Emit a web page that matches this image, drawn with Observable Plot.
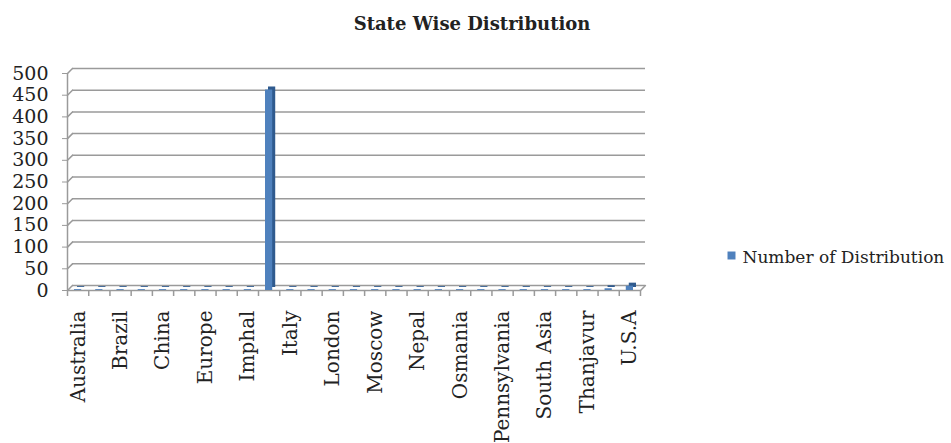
<!DOCTYPE html>
<html>
<head>
<meta charset="utf-8">
<script src="https://cdn.jsdelivr.net/npm/d3@7"></script>
<script src="https://cdn.jsdelivr.net/npm/@observablehq/plot@0.6"></script>
<style>
  html, body { margin: 0; padding: 0; background: #fff; }
  #chart svg { display: block; }
</style>
</head>
<body>
<div id="chart"></div>
<script>
// Every second place name is printed under the axis
const axisLabels = ["Australia", "Brazil", "China", "Europe", "Imphal", "Italy", "London",
  "Moscow", "Nepal", "Osmania", "Pennsylvania", "South Asia", "Thanjavur", "U.S.A"];

// Number of distribution for each of the 27 places, in axis order
const counts = [2, 2, 2, 2, 2, 2, 2, 2, 2, 462, 2, 2, 2, 2, 2, 2, 2, 2, 2, 2, 2, 2, 2, 2, 2, 4, 10];

const yTicks = d3.range(0, 501, 50);
const seriesName = "Number of Distribution";
const title = "State Wise Distribution";

const serif = "'DejaVu Serif', serif";
const gridColor = "#9a9a9a";
const blue = "#4f81bd";
const blueDark = "#2f5a8e";

const bars = counts.map((v, i) => ({i, v}));
const catEdges = d3.range(0, counts.length + 1);

// short diagonal stroke giving the floor/wall its depth
const depthStroke = {draw(ctx, l) { ctx.moveTo(0, 0); ctx.lineTo(0, -l); }};

const chart = Plot.plot({
  width: 951,
  height: 443,
  marginTop: 73,
  marginBottom: 153,
  marginLeft: 67,
  marginRight: 311,
  style: {fontFamily: serif, background: "#fff", overflow: "visible"},
  x: {type: "linear", domain: [0, counts.length], axis: null},
  y: {type: "linear", domain: [0, 500], axis: null},
  marks: [
    // back-wall gridlines, pushed up and right for depth
    Plot.ruleY(yTicks, {dx: 5, dy: -5, stroke: gridColor, strokeWidth: 1.5}),
    Plot.vector(yTicks, {x: () => 0, y: d => d, length: 7, rotate: 45, anchor: "start",
      shape: depthStroke, stroke: gridColor, strokeWidth: 1.5}),
    Plot.vector([counts.length], {x: d => d, y: () => 0, length: 7, rotate: 45, anchor: "start",
      shape: depthStroke, stroke: gridColor, strokeWidth: 1.5}),
    // front floor edge and value axis line
    Plot.ruleY([0], {stroke: gridColor, strokeWidth: 1.5}),
    Plot.ruleX([0], {y1: 0, y2: 500, stroke: gridColor, strokeWidth: 1.5}),
    // value axis ticks and labels
    Plot.axisY({ticks: yTicks, tickSize: 5, tickPadding: 14, stroke: gridColor,
      fontSize: 19, fill: "#222", label: null, fontFamily: serif}),
    // category ticks below the floor edge
    Plot.axisX({ticks: catEdges, tickSize: 6, tickFormat: () => "", stroke: gridColor,
      strokeWidth: 1.5, label: null}),
    // bar depth (side and top)
    Plot.rectY(bars, {x1: d => d.i, x2: d => d.i + 1, y1: 0, y2: "v", insetLeft: 7, insetRight: 7,
      dx: 3, dy: -3, fill: blueDark}),
    // bar fronts
    Plot.rectY(bars, {x1: d => d.i, x2: d => d.i + 1, y1: 0, y2: "v", insetLeft: 7, insetRight: 7,
      fill: blue}),
    // rotated category labels
    Plot.text(axisLabels, {x: (d, k) => k * 2 + 0.5, y: () => 0, text: d => d, rotate: -90,
      textAnchor: "end", dy: 20, fontSize: 20, fill: "#222", fontFamily: serif}),
    // title
    Plot.text([title], {frameAnchor: "top", dx: 118, dy: -56, fontSize: 18, fontWeight: "bold",
      fill: "#222", fontFamily: serif}),
    // legend
    Plot.dot([seriesName], {frameAnchor: "top-right", dx: 91, dy: 182, symbol: "square", r: 4.5,
      fill: blue}),
    Plot.text([seriesName], {frameAnchor: "top-right", dx: 102, dy: 177, textAnchor: "start",
      fontSize: 17, fill: "#222", fontFamily: serif})
  ]
});

document.getElementById("chart").appendChild(chart);
</script>
</body>
</html>
